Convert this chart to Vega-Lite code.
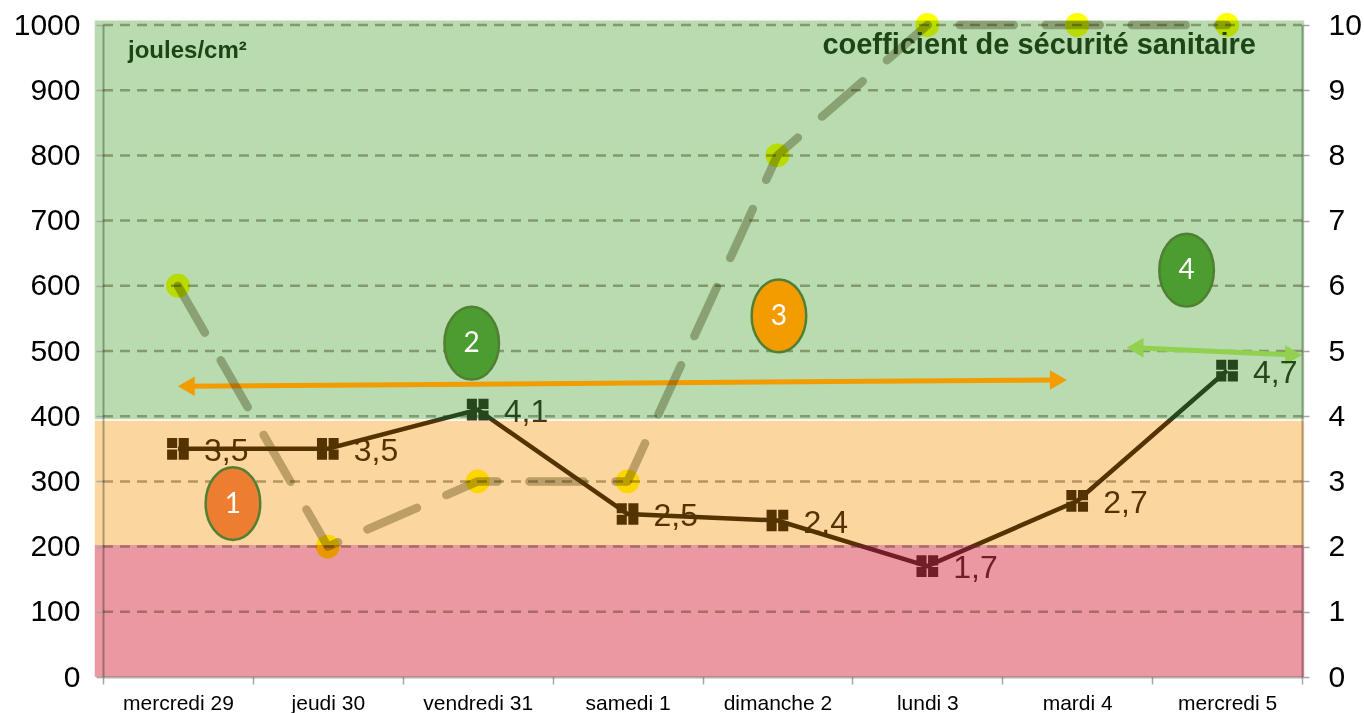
{
  "$schema": "https://vega.github.io/schema/vega-lite/v6.json",
  "width": 1199,
  "height": 652,
  "autosize": {"type": "none"},
  "padding": {"left": 103, "top": 25, "right": 62, "bottom": 36},
  "background": "white",
  "config": {
    "view": {"stroke": null},
    "font": "Liberation Sans",
    "locale": {"number": {"decimal": ",", "thousands": "", "grouping": [3], "currency": ["", " €"]}}
  },
  "datasets": {
    "jours": [
      {"jour": "mercredi 29", "joules": 600, "coef": 3.5},
      {"jour": "jeudi 30", "joules": 200, "coef": 3.5},
      {"jour": "vendredi 31", "joules": 300, "coef": 4.1},
      {"jour": "samedi 1", "joules": 300, "coef": 2.5},
      {"jour": "dimanche 2", "joules": 800, "coef": 2.4},
      {"jour": "lundi 3", "joules": 1000, "coef": 1.7},
      {"jour": "mardi 4", "joules": 1000, "coef": 2.7},
      {"jour": "mercredi 5", "joules": 1000, "coef": 4.7}
    ],
    "zones": [
      {"zone": "rouge", "bas": 0, "haut": 202.5},
      {"zone": "orange", "bas": 202.5, "haut": 393},
      {"zone": "vert", "bas": 395.5, "haut": 1007}
    ],
    "grille": [
      {"v": 100}, {"v": 200}, {"v": 300}, {"v": 400}, {"v": 500},
      {"v": 600}, {"v": 700}, {"v": 800}, {"v": 900}, {"v": 1000}
    ],
    "fleches": [
      {"fleche": "orange", "sens": "gauche", "pos": 0.056, "j": 446},
      {"fleche": "orange", "sens": "droite", "pos": 5.874, "j": 455.5},
      {"fleche": "verte", "sens": "gauche", "pos": 6.386, "j": 505},
      {"fleche": "verte", "sens": "droite", "pos": 7.444, "j": 494}
    ],
    "bulles": [
      {"n": "1", "pos": 0.367, "j": 266, "teinte": "orange foncé"},
      {"n": "2", "pos": 1.96, "j": 512, "teinte": "vert"},
      {"n": "3", "pos": 4.01, "j": 554, "teinte": "orange"},
      {"n": "4", "pos": 6.73, "j": 624, "teinte": "vert"}
    ],
    "titres": [
      {"texte": "joules/cm²", "pos": -0.333, "j": 949, "taille": "petit"},
      {"texte": "coefficient de sécurité sanitaire", "pos": 4.3, "j": 956, "taille": "grand"}
    ]
  },
  "resolve": {"scale": {"x": "independent", "y": "independent"}},
  "layer": [
    {
      "resolve": {"scale": {"color": "independent", "fill": "independent", "shape": "independent"}},
      "layer": [
        {
          "data": {"name": "zones"},
          "mark": {"type": "rect"},
          "encoding": {
            "x": {"datum": -0.555, "type": "quantitative", "scale": {"domain": [-0.5, 7.5], "nice": false, "zero": false}, "axis": null},
            "x2": {"datum": 7.515},
            "y": {"field": "bas", "type": "quantitative", "scale": {"domain": [0, 1000], "nice": false, "zero": false}, "axis": null},
            "y2": {"field": "haut"},
            "color": {"field": "zone", "type": "nominal", "scale": {"domain": ["rouge", "orange", "vert"], "range": ["#ea98a2", "#fbd69e", "#b8dbb0"]}, "legend": null}
          }
        },
        {
          "data": {"name": "grille"},
          "mark": {"type": "rule", "color": "#b8b39c", "blend": "multiply", "strokeWidth": 2.5, "strokeDash": [10, 7]},
          "encoding": {
            "x": {"datum": -0.5, "type": "quantitative"},
            "x2": {"datum": 7.5},
            "y": {"field": "v", "type": "quantitative"}
          }
        },
        {
          "data": {"name": "fleches"},
          "mark": {"type": "line", "strokeWidth": 5},
          "encoding": {
            "x": {"field": "pos", "type": "quantitative"},
            "y": {"field": "j", "type": "quantitative"},
            "color": {"field": "fleche", "type": "nominal", "scale": {"domain": ["orange", "verte"], "range": ["#f39c00", "#92d050"]}, "legend": null}
          }
        },
        {
          "data": {"name": "fleches"},
          "mark": {"type": "point", "filled": true, "size": 380, "opacity": 1},
          "encoding": {
            "x": {"field": "pos", "type": "quantitative"},
            "y": {"field": "j", "type": "quantitative"},
            "shape": {"field": "sens", "type": "nominal", "scale": {"domain": ["gauche", "droite"], "range": ["triangle-left", "triangle-right"]}, "legend": null},
            "color": {"field": "fleche", "type": "nominal", "scale": {"domain": ["orange", "verte"], "range": ["#f39c00", "#92d050"]}, "legend": null}
          }
        },
        {
          "data": {"name": "bulles"},
          "mark": {"type": "point", "filled": true, "opacity": 1, "size": 5300, "shape": "M0,-1A0.75,1,0,1,1,0,1A0.75,1,0,1,1,0,-1Z", "stroke": "#527f33", "strokeWidth": 2.5},
          "encoding": {
            "x": {"field": "pos", "type": "quantitative"},
            "y": {"field": "j", "type": "quantitative"},
            "fill": {"field": "teinte", "type": "nominal", "scale": {"domain": ["orange foncé", "vert", "orange"], "range": ["#ed7d31", "#4a9d2e", "#f29c00"]}, "legend": null}
          }
        },
        {
          "data": {"name": "bulles"},
          "mark": {"type": "text", "font": "Lato", "fontSize": 28, "color": "white", "align": "center", "baseline": "middle", "dy": 1},
          "encoding": {
            "x": {"field": "pos", "type": "quantitative"},
            "y": {"field": "j", "type": "quantitative"},
            "text": {"field": "n"}
          }
        }
      ]
    },
    {
      "data": {"name": "jours"},
      "encoding": {
        "x": {
          "field": "jour", "type": "nominal", "sort": null,
          "scale": {"type": "band", "paddingInner": 0, "paddingOuter": 0},
          "axis": {"title": null, "orient": "bottom", "tickBand": "extent", "labelAngle": 0, "labelFont": "Liberation Sans", "labelFontSize": 21, "labelColor": "#000", "labelPadding": 8, "tickSize": 7, "tickColor": "#a6a6a6", "tickWidth": 1.5, "domainColor": "#000", "domainOpacity": 0.3, "domainWidth": 2, "grid": false, "zindex": 1}
        },
        "y": {
          "field": "joules", "type": "quantitative",
          "scale": {"domain": [0, 1000], "nice": false, "zero": false},
          "axis": {"title": null, "orient": "left", "tickCount": 10, "format": "d", "labelFontSize": 30, "labelColor": "#000", "labelPadding": 16, "tickSize": 7, "tickColor": "#a6a6a6", "tickWidth": 1.5, "domainColor": "#000", "domainOpacity": 0.3, "domainWidth": 2, "grid": false, "zindex": 1}
        }
      },
      "layer": [
        {"mark": {"type": "line", "stroke": "#c0bca6", "color": "#c0bca6", "blend": "multiply", "strokeWidth": 8.5, "strokeDash": [54, 32], "strokeCap": "round", "strokeJoin": "round"}},
        {"mark": {"type": "point", "filled": true, "shape": "circle", "size": 570, "color": "#ffff00", "opacity": 1, "blend": "multiply"}}
      ]
    },
    {
      "data": {"name": "jours"},
      "encoding": {
        "x": {"field": "jour", "type": "nominal", "sort": null, "scale": {"type": "band", "paddingInner": 0, "paddingOuter": 0}, "axis": null},
        "y": {
          "field": "coef", "type": "quantitative",
          "scale": {"domain": [0, 10], "nice": false, "zero": false},
          "axis": {"title": null, "orient": "right", "tickCount": 10, "labelFontSize": 30, "labelColor": "#000", "labelPadding": 19, "tickSize": 7, "tickColor": "#a6a6a6", "tickWidth": 1.5, "domainColor": "#000", "domainOpacity": 0.3, "domainWidth": 2, "grid": false, "zindex": 1}
        }
      },
      "layer": [
        {"mark": {"type": "line", "color": "#383838", "strokeWidth": 4.5, "blend": "luminosity"}},
        {"mark": {"type": "point", "filled": true, "opacity": 1, "size": 470, "color": "#383838", "blend": "luminosity", "shape": "M-1,-1H-0.07V-0.07H-1Z M0.07,-1H1V-0.07H0.07Z M-1,0.07H-0.07V1H-1Z M0.07,0.07H1V1H0.07Z"}},
        {
          "mark": {"type": "text", "align": "left", "baseline": "middle", "dx": 26, "dy": 2, "fontSize": 32, "color": "#383838", "blend": "luminosity"},
          "encoding": {"text": {"field": "coef", "type": "quantitative", "format": ".1f"}}
        }
      ]
    },
    {
      "data": {"name": "titres"},
      "mark": {"type": "text", "align": "left", "baseline": "alphabetic", "fontWeight": "bold", "color": "#1d4415"},
      "encoding": {
        "x": {"field": "pos", "type": "quantitative", "scale": {"domain": [-0.5, 7.5], "nice": false, "zero": false}, "axis": null},
        "y": {"field": "j", "type": "quantitative", "scale": {"domain": [0, 1000], "nice": false, "zero": false}, "axis": null},
        "text": {"field": "texte"},
        "size": {"field": "taille", "type": "nominal", "scale": {"domain": ["petit", "grand"], "range": [24, 29]}, "legend": null}
      }
    }
  ]
}
